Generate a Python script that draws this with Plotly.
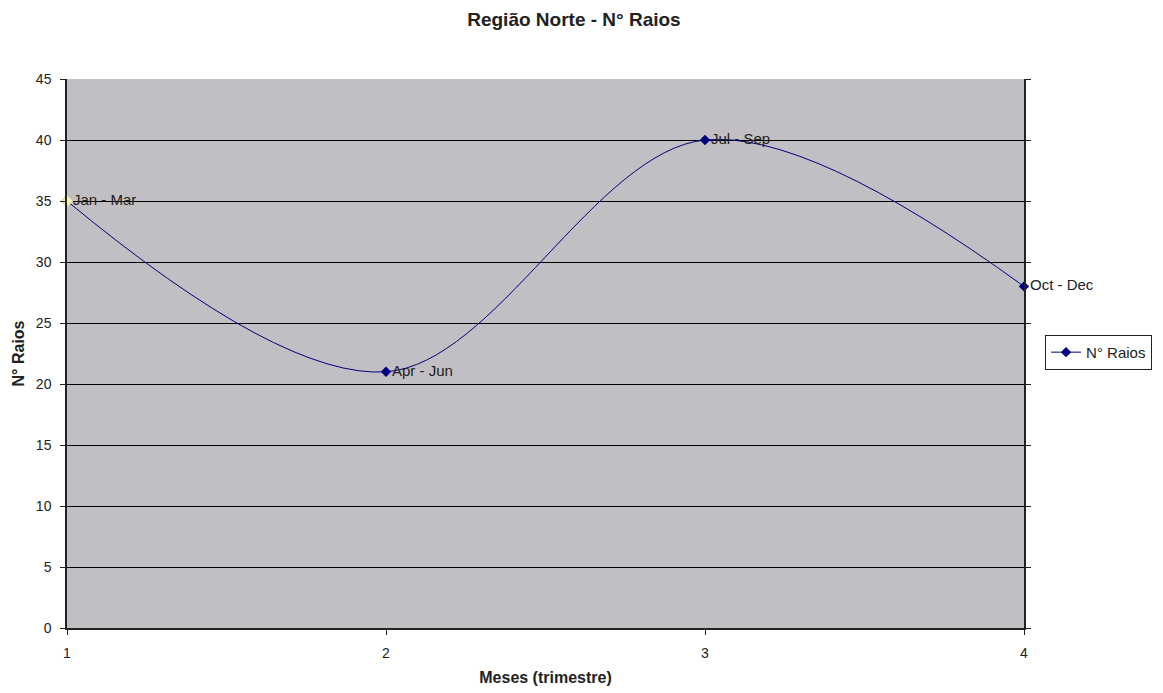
import plotly.graph_objects as go

trimestre = [1, 2, 3, 4]
raios = [35, 21, 40, 28]
rotulos = ["Jan - Mar", "Apr - Jun", "Jul - Sep", "Oct - Dec"]
y_ticks = [0, 5, 10, 15, 20, 25, 30, 35, 40, 45]

fig = go.Figure()
fig.add_trace(go.Scatter(
    x=trimestre, y=raios, mode="lines+markers+text",
    name="N° Raios", text=rotulos, textposition="middle right",
    textfont=dict(size=15, color="#222222"),
    line=dict(color="#000080", width=1, shape="spline", smoothing=1),
    marker=dict(symbol="diamond", size=8, color="#000080"),
    cliponaxis=False,
))
# first point is drawn highlighted (pale yellow) in the original
fig.add_trace(go.Scatter(
    x=trimestre[:1], y=raios[:1], mode="markers", showlegend=False,
    marker=dict(symbol="diamond", size=9, color="#f6f2b8",
                line=dict(color="#d8d49a", width=1)),
    cliponaxis=False,
))

fig.update_layout(
    width=1155, height=685,
    paper_bgcolor="white", plot_bgcolor="#c1bfc3",
    font=dict(family="Liberation Sans, Arial", size=14, color="#222222"),
    title=dict(text="<b>Região Norte - N° Raios</b>", x=0.49, xanchor="center",
               y=0.984, yanchor="middle", font=dict(size=19)),
    margin=dict(l=59, r=139, t=71, b=65, autoexpand=False),
    showlegend=True,
    legend=dict(x=1.022, xanchor="left", xref="paper", y=0.502, yanchor="middle",
                bordercolor="#222222", borderwidth=1, bgcolor="white",
                font=dict(size=15), itemwidth=30, tracegroupgap=0),
    xaxis=dict(range=[1, 4], tickvals=trimestre, showgrid=False, zeroline=False,
               showline=True, linecolor="#222222", linewidth=1.5,
               ticks="outside", ticklen=5, tickcolor="#222222",
               ticklabelstandoff=6, automargin=False,
               title=dict(text="<b>Meses (trimestre)</b>", standoff=12,
                          font=dict(size=16))),
    yaxis=dict(range=[0, 45], tickvals=y_ticks, showgrid=True, gridcolor="black",
               gridwidth=1, zeroline=False, showline=True, linecolor="#222222",
               linewidth=1.5, ticks="outside", ticklen=5, tickcolor="#222222",
               mirror="ticks", ticklabelstandoff=6, automargin=False,
               title=dict(text="<b>N° Raios</b>", standoff=7,
                          font=dict(size=16))),
)

fig.write_html("out.html")
